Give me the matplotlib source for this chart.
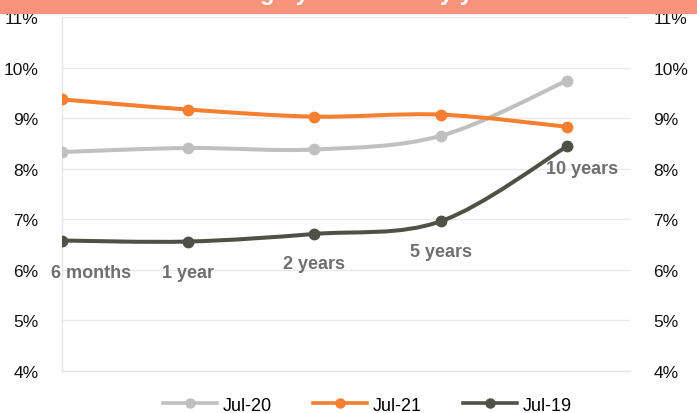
import matplotlib
matplotlib.use("Agg")
import matplotlib.pyplot as plt
from matplotlib.path import Path
from matplotlib.patches import PathPatch, Rectangle
from matplotlib.lines import Line2D

plt.rcParams["font.family"] = ["Liberation Sans", "DejaVu Sans"]

# yield curves, % per tenor
tenors = ["6 months", "1 year", "2 years", "5 years", "10 years"]
jul20 = [8.33, 8.41, 8.38, 8.65, 9.74]
jul21 = [9.37, 9.17, 9.03, 9.07, 8.83]
jul19 = [6.58, 6.56, 6.71, 6.96, 8.44]
series_names = ["Jul-20", "Jul-21", "Jul-19"]
y_ticks = [4, 5, 6, 7, 8, 9, 10, 11]

colors = {"Jul-20": "#C0C0C0", "Jul-21": "#F57F2F", "Jul-19": "#4F5046"}
label_color = "#6F6F6F"
# pixel offsets of the tenor labels under the Jul-19 points
label_offsets = [(29, -32), (0, -31), (0, -30), (0, -30), (15, -22)]


def smooth_path(xs, ys):
    # Catmull-Rom style bezier through the points (like a spreadsheet "smoothed line")
    pts = list(zip(xs, ys))
    n = len(pts)
    verts = [pts[0]]
    codes = [Path.MOVETO]
    for i in range(n - 1):
        p0 = pts[i - 1] if i > 0 else pts[i]
        p1 = pts[i]
        p2 = pts[i + 1]
        p3 = pts[i + 2] if i + 2 < n else pts[i + 1]
        c1 = (p1[0] + (p2[0] - p0[0]) / 6, p1[1] + (p2[1] - p0[1]) / 6)
        c2 = (p2[0] - (p3[0] - p1[0]) / 6, p2[1] - (p3[1] - p1[1]) / 6)
        verts += [c1, c2, p2]
        codes += [Path.CURVE4] * 3
    return Path(verts, codes)


fig = plt.figure(figsize=(6.97, 4.14), dpi=100)
ax = fig.add_axes([62 / 697, 1 - 372 / 414, (630 - 62) / 697, (372 - 18) / 414])

# title banner, its text runs off the top edge
fig.patches.append(Rectangle((0, 1 - 15 / 414), 1, 15 / 414, transform=fig.transFigure,
                             facecolor="#F7937A", edgecolor="none", zorder=0))
fig.text(0.49, 1 - 0.3 / 414, "Sovereign yield curve by year", color="white",
         fontsize=17, fontweight="bold", ha="center", va="baseline")

x = list(range(len(tenors)))
for name, vals in zip(series_names, [jul20, jul21, jul19]):
    c = colors[name]
    ax.add_patch(PathPatch(smooth_path(x, vals), facecolor="none", edgecolor=c,
                           lw=2.9, capstyle="round", zorder=3))
    ax.plot(x, vals, linestyle="none", marker="o", markersize=7.5, color=c, zorder=4)

for i, (t, v) in enumerate(zip(tenors, jul19)):
    dx, dy = label_offsets[i]
    ax.annotate(t, (i, v), xytext=(dx, dy), textcoords="offset pixels",
                ha="center", va="center", fontsize=13, fontweight="bold",
                color=label_color, zorder=5)

ax.set_xlim(0, 4.5)
ax.set_ylim(4, 11)
ax.set_yticks(y_ticks)
ax.set_yticklabels([f"{t}%" for t in y_ticks])
ax.set_xticks([])
ax.tick_params(axis="y", length=0, labelsize=12.5, pad=17,
               labelleft=True, labelright=True, labelcolor="#111111")
ax.grid(axis="y", color="#E9E9E9", lw=1)
ax.set_axisbelow(True)
for s in ["top", "right"]:
    ax.spines[s].set_visible(False)
for s in ["left", "bottom"]:
    ax.spines[s].set_color("#E6E6E6")
    ax.spines[s].set_linewidth(1)

handles = [Line2D([], [], color=colors[n], lw=2.6, marker="o", markersize=6.5)
           for n in series_names]
fig.legend(handles, series_names, loc="center", bbox_to_anchor=(0.527, 0.019),
           ncol=3, frameon=False, fontsize=13, handlelength=3.0,
           handletextpad=0.3, columnspacing=2.3, numpoints=1,
           borderaxespad=0, borderpad=0)

fig.savefig("out.png", dpi=100)
